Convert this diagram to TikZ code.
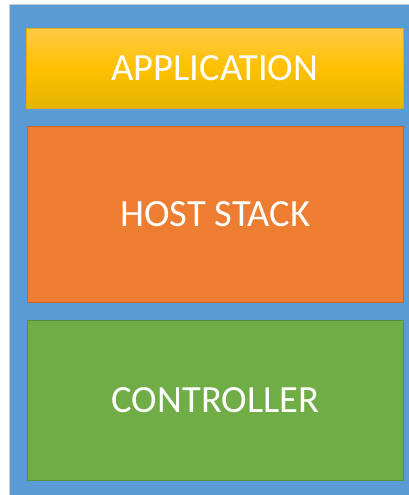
\documentclass[tikz,border=0pt]{standalone}
\usepackage{fontspec}
\setmainfont{Carlito}
\definecolor{bgblue}{HTML}{5B9BD5}
\definecolor{framegray}{HTML}{C8CCD0}
\definecolor{apptop}{HTML}{FFCA45}
\definecolor{appmid}{HTML}{FFC000}
\definecolor{appbot}{HTML}{E3B400}
\definecolor{appline}{HTML}{E6A817}
\definecolor{hostfill}{HTML}{ED7D31}
\definecolor{hostline}{HTML}{C8652A}
\definecolor{ctrlfill}{HTML}{70AD47}
\definecolor{ctrlline}{HTML}{548E38}
\tikzset{
  layer/.style={rectangle, inner sep=0pt, line width=0.9pt, text=white,
    font=\fontsize{38.5}{40}\selectfont, align=center},
  lbl/.style={text=white, font=\fontsize{38.5}{40}\selectfont, inner sep=0pt,
    text height=24.8pt, text depth=0pt, anchor=center}
}
\begin{document}
\begin{tikzpicture}[x=1pt,y=1pt]
\useasboundingbox (0,0) rectangle (409,495);
\fill[white] (0,0) rectangle (409,495);
% outer frame
\fill[framegray] (9,0) rectangle (409,491);
\fill[bgblue] (10,0) rectangle (409,490);
% layers
\node[layer, draw=appline, top color=apptop, bottom color=appbot, middle color=appmid,
  minimum width=377pt, minimum height=80pt, anchor=south west] (app) at (26,386) {};
\node[layer, draw=hostline, fill=hostfill,
  minimum width=376pt, minimum height=176pt, anchor=south west] (host) at (27,192) {};
\node[layer, draw=ctrlline, fill=ctrlfill,
  minimum width=376pt, minimum height=160pt, anchor=south west] (ctrl) at (27,14) {};
\node[lbl] (applbl) at (app.center) {APPLICATION};
\node[lbl] (hostlbl) at (host.center) {HOST STACK};
\node[lbl] (ctrllbl) at (ctrl.center) {CONTROLLER};
\end{tikzpicture}
\end{document}
